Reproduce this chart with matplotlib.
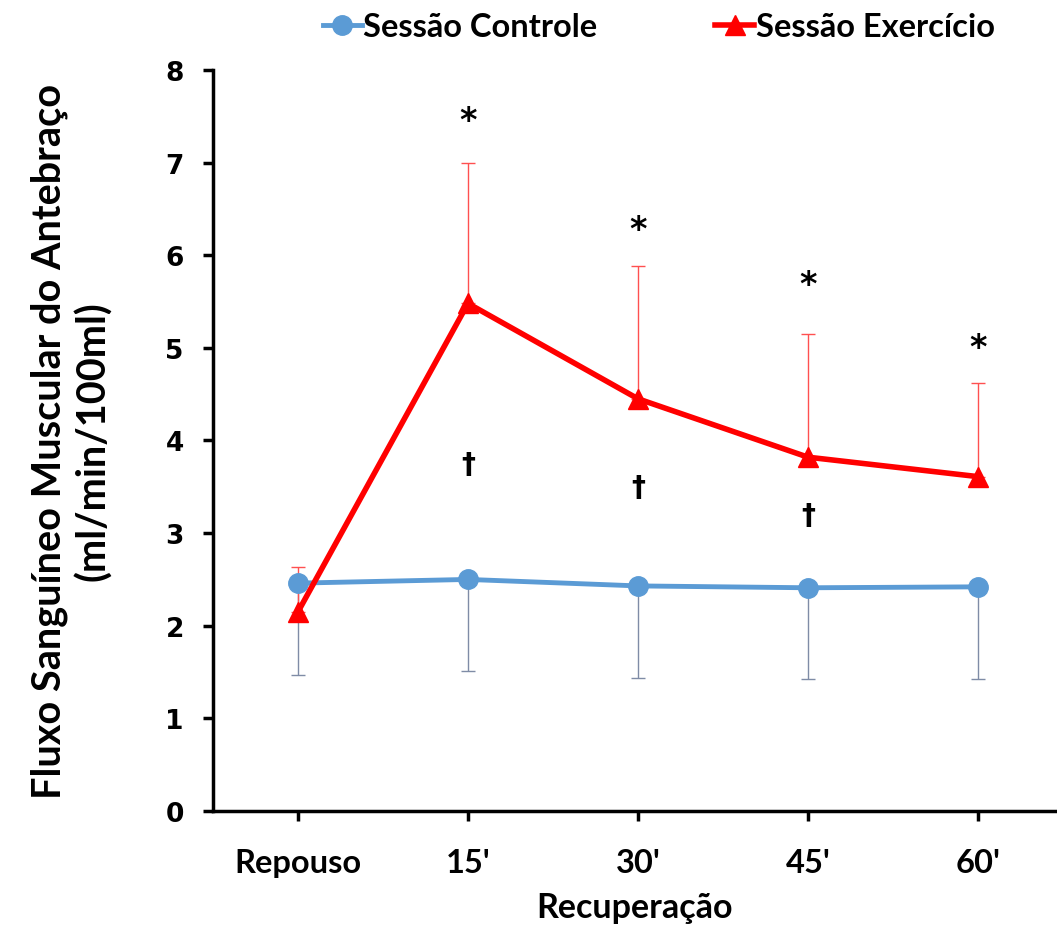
import numpy as np
import matplotlib.pyplot as plt

categories = ["Repouso", "15'", "30'", "45'", "60'"]
controle = [2.46, 2.50, 2.43, 2.41, 2.42]
controle_err = [0.99, 0.99, 0.99, 0.99, 0.99]
exercicio = [2.15, 5.48, 4.45, 3.82, 3.61]
exercicio_err = [0.48, 1.52, 1.43, 1.33, 1.01]
star_pos = [1, 2, 3, 4]
star_y = [7.45, 6.28, 5.68, 5.0]
dagger_pos = [1, 2, 3]
dagger_y = [3.75, 3.5, 3.2]

narrow = ["Lato", "DejaVu Sans"]

fig = plt.figure(figsize=(10.57, 9.28), dpi=100)
ax = fig.add_axes([0.2015, 0.125, 0.7985, 0.7985])

x = np.arange(len(categories))

ax.errorbar(x, controle, yerr=[controle_err, np.zeros(len(x))], fmt="none",
            ecolor="#7F8CA6", elinewidth=1, capsize=5, capthick=1, zorder=2)
ax.errorbar(x, exercicio, yerr=[np.zeros(len(x)), exercicio_err], fmt="none",
            ecolor="#FF5050", elinewidth=1, capsize=5, capthick=1, zorder=2)
ax.plot(x, controle, color="#5B9BD5", lw=3.5, marker="o", ms=14,
        label="Sessão Controle", zorder=3)
ax.plot(x, exercicio, color="#FF0000", lw=4, marker="^", ms=14,
        label="Sessão Exercício", zorder=4)

for p, yv in zip(star_pos, star_y):
    ax.text(p, yv, "*", ha="center", va="center", fontsize=24, fontweight="bold")
for p, yv in zip(dagger_pos, dagger_y):
    ax.text(p, yv, "†", ha="center", va="center", fontsize=20, fontweight="bold")

ax.set_xlim(-0.5, 4.465)
ax.set_ylim(0, 8)
ax.set_yticks(range(0, 9))
ax.set_xticks(x)
ax.set_xticklabels(categories, family=narrow, fontsize=23.5, fontweight="bold")
for lab in ax.get_yticklabels():
    lab.set_fontsize(19)
    lab.set_fontweight("bold")
    lab.set_family("DejaVu Sans")
ax.tick_params(axis="both", direction="out", length=7, width=2.5, colors="black")
ax.tick_params(axis="x", pad=20)
ax.tick_params(axis="y", pad=14)

for s in ["top", "right"]:
    ax.spines[s].set_visible(False)
ax.spines["left"].set_linewidth(2.5)
ax.spines["bottom"].set_linewidth(2.5)

ax.set_xlabel("Recuperação", family=narrow, fontsize=24.5, fontweight="bold", labelpad=10)
ax.set_ylabel("Fluxo Sanguíneo Muscular do Antebraço\n(ml/min/100ml)", family=narrow,
              fontsize=28.5, fontweight="bold", labelpad=38, linespacing=1.2)

leg = ax.legend(loc="upper center", bbox_to_anchor=(0.528, 1.118), ncol=2, frameon=False,
                handlelength=1.2, handletextpad=0.05, columnspacing=3.6,
                prop={"family": narrow, "size": 23.5, "weight": "bold"})

fig.savefig("out.png", dpi=100)
